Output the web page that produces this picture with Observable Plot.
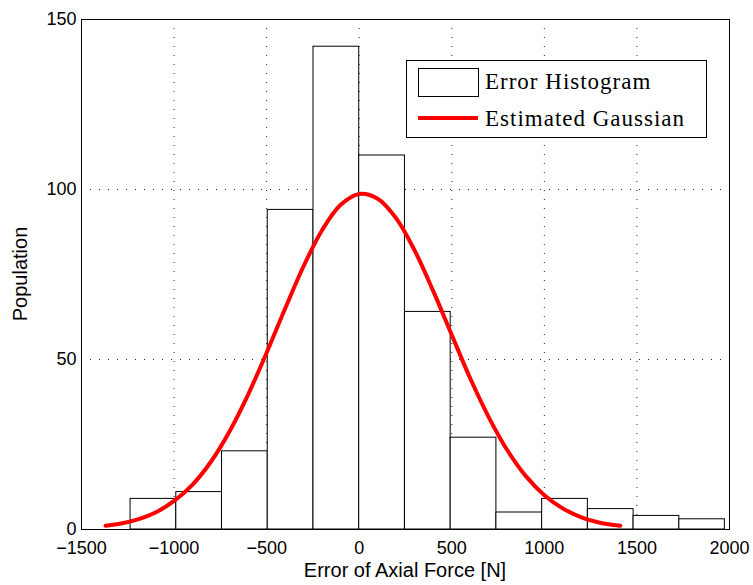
<!DOCTYPE html>
<html>
<head>
<meta charset="utf-8">
<script src="https://cdn.jsdelivr.net/npm/d3@7"></script>
<script src="https://cdn.jsdelivr.net/npm/@observablehq/plot@0.6"></script>
<style>
  html, body { margin: 0; padding: 0; background: #fff; }
  #chart { width: 753px; height: 585px; }
</style>
</head>
<body>
<div id="chart"></div>
<script>
// Histogram bin edges and counts
const binEdges = [-1235, -988, -741, -494, -247, 0, 247, 494, 741, 988, 1235, 1482, 1729, 1975];
const counts = [9, 11, 23, 94, 142, 110, 64, 27, 5, 9, 6, 4, 3];

// Estimated Gaussian curve
const gaussX = [-1370, -1300, -1200, -1100, -1000, -900, -800, -700, -600, -500, -400, -300, -200, -100, 0,
                100, 200, 300, 400, 500, 600, 700, 800, 900, 1000, 1100, 1200, 1300, 1410];
const gaussY = [1.1, 1.6, 2.9, 5.0, 8.4, 13.2, 20.0, 28.9, 39.7, 52.0, 65.0, 77.5, 88.1, 95.5, 98.7,
                97.3, 91.5, 82.0, 70.1, 57.2, 44.4, 33.0, 23.3, 15.7, 10.1, 6.2, 3.6, 2.0, 1.1];

// Tick values
const xTicks = [-1500, -1000, -500, 0, 500, 1000, 1500, 2000];
const yTicks = [0, 50, 100, 150];

// Text
const legendLabels = ["Error Histogram", "Estimated Gaussian"];
const xLabel = "Error of Axial Force [N]";
const yLabel = "Population";

const bins = counts.map((c, i) => ({x1: binEdges[i], x2: binEdges[i + 1], y: c}));
const curve = gaussX.map((x, i) => ({x, y: gaussY[i]}));

const W = 753, H = 585;
const mL = 81, mR = 24, mT = 19, mB = 56;
const fmt = d => (d < 0 ? "\u2212" + Math.abs(d) : String(d));

const plot = Plot.plot({
  width: W,
  height: H,
  marginLeft: mL,
  marginRight: mR,
  marginTop: mT,
  marginBottom: mB,
  style: {
    fontFamily: "'Liberation Sans', Arial, Helvetica, sans-serif",
    fontSize: "18px",
    color: "#000",
    background: "#fff"
  },
  x: {domain: [-1500, 2000]},
  y: {domain: [0, 150]},
  marks: [
    Plot.gridX(xTicks.slice(1, -1), {stroke: "#222", strokeOpacity: 1, strokeWidth: 1, strokeDasharray: "1,8"}),
    Plot.gridY(yTicks.slice(1, -1), {stroke: "#222", strokeOpacity: 1, strokeWidth: 1, strokeDasharray: "1,8"}),
    Plot.rectY(bins, {x1: "x1", x2: "x2", y: "y", fill: "white", stroke: "black", strokeWidth: 1}),
    Plot.line(curve, {x: "x", y: "y", stroke: "#ff0000", strokeWidth: 4, curve: "catmull-rom"}),
    Plot.frame({stroke: "black", strokeWidth: 1}),
    Plot.axisX(xTicks, {tickSize: 0, tickPadding: 12, label: null, tickFormat: fmt}),
    Plot.axisY(yTicks, {tickSize: 0, tickPadding: 5, label: null, tickFormat: fmt})
  ]
});

document.getElementById("chart").appendChild(plot);

const svg = d3.select(plot);
const cx = (mL + (W - mR)) / 2, cy = (mT + (H - mB)) / 2;

// Axis labels
svg.append("text")
  .attr("x", cx).attr("y", 577)
  .attr("text-anchor", "middle")
  .style("font-family", "'Liberation Sans', Arial, sans-serif")
  .style("font-size", "20px")
  .attr("fill", "#000")
  .text(xLabel);

svg.append("text")
  .attr("transform", `translate(27,${cy}) rotate(-90)`)
  .attr("text-anchor", "middle")
  .style("font-family", "'Liberation Sans', Arial, sans-serif")
  .style("font-size", "20px")
  .attr("fill", "#000")
  .text(yLabel);

// Legend
const lg = svg.append("g");
lg.append("rect")
  .attr("x", 406.5).attr("y", 60.5).attr("width", 300).attr("height", 77)
  .attr("fill", "white").attr("stroke", "black").attr("stroke-width", 1);
lg.append("rect")
  .attr("x", 418.5).attr("y", 68.5).attr("width", 60).attr("height", 28)
  .attr("fill", "white").attr("stroke", "black").attr("stroke-width", 1);
lg.append("line")
  .attr("x1", 418).attr("x2", 478).attr("y1", 118).attr("y2", 118)
  .attr("stroke", "#ff0000").attr("stroke-width", 4);
legendLabels.forEach((t, i) => {
  lg.append("text")
    .attr("x", 485).attr("y", i === 0 ? 89 : 126)
    .attr("text-anchor", "start")
    .style("text-anchor", "start")
    .style("font-family", "'Liberation Serif', 'Times New Roman', serif")
    .style("font-size", "23px")
    .style("letter-spacing", "1px")
    .attr("fill", "#000")
    .text(t);
});
</script>
</body>
</html>
